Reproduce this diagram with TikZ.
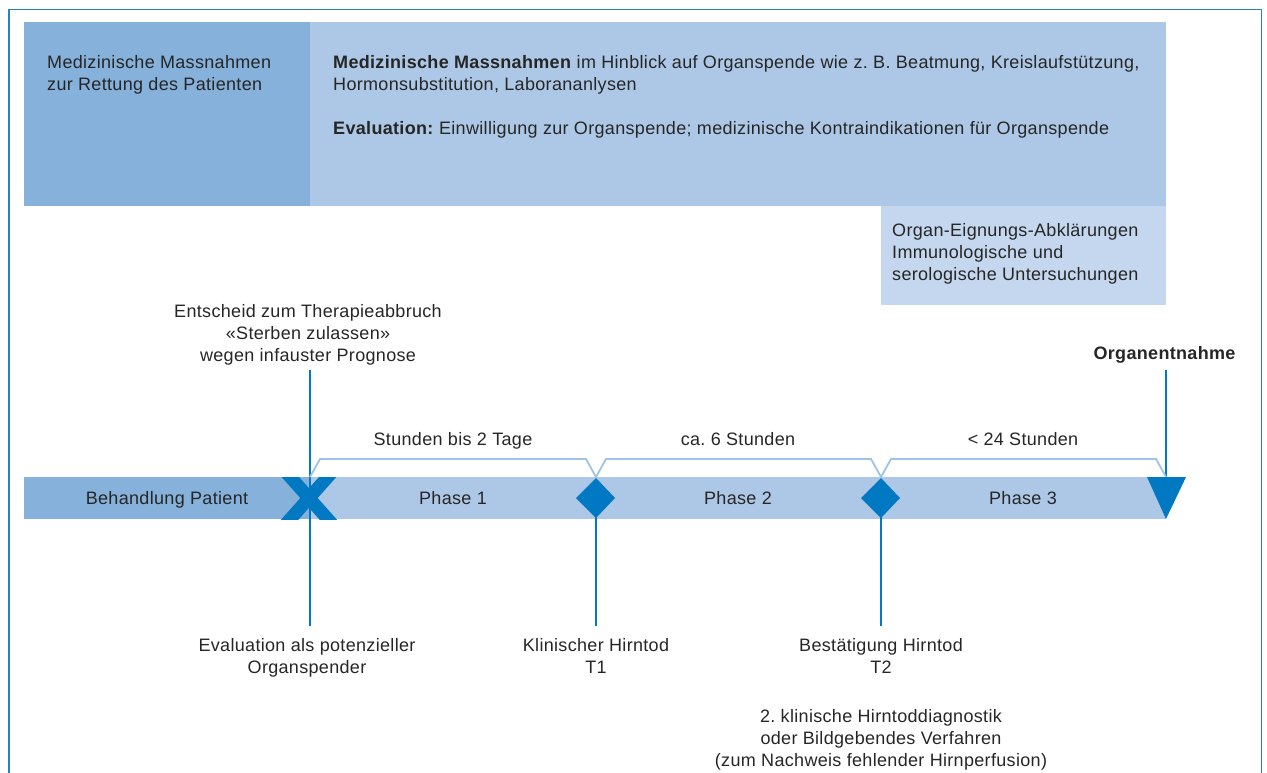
\documentclass[tikz,border=0pt]{standalone}
\usepackage{fontspec}
\setmainfont[LetterSpace=1.8]{Liberation Sans}
\usetikzlibrary{calc}
\definecolor{darkblk}{HTML}{85B1DB}
\definecolor{lightblk}{HTML}{ADC8E6}
\definecolor{lighterblk}{HTML}{C5D7EE}
\definecolor{mblue}{HTML}{0079C2}
\definecolor{brk}{HTML}{9DC3E6}
\definecolor{txt}{HTML}{262626}
\definecolor{framec}{HTML}{2A80C4}
\frenchspacing
\begin{document}
\begin{tikzpicture}[x=1pt,y=-1pt,
  lbl/.style={font=\fontsize{18}{22}\selectfont, text=txt, inner sep=0pt},
  vline/.style={draw=mblue, line width=2.4pt},
  bracketline/.style={draw=brk, line width=1.8pt, line join=miter},
  marker/.style={fill=mblue, draw=none}]
\useasboundingbox (0,0) rectangle (1267,772);
% frame
\draw[framec, line width=1.5pt] (9,780) -- (9,9.5) -- (1261.5,9.5) -- (1261.5,780);
% top blocks
\fill[darkblk] (24,22) rectangle (310,206);
\fill[lightblk] (310,22) rectangle (1166,206);
\fill[lighterblk] (881,206) rectangle (1166,305);
\node[lbl, anchor=north west, align=left] (rescue) at (47,55.5) {Medizinische Massnahmen\\zur Rettung des Patienten};
\node[lbl, anchor=north west, align=left] (measures) at (333,55.5) {\textbf{Medizinische Massnahmen} im Hinblick auf Organspende wie z. B. Beatmung, Kreislaufstützung,\\Hormonsubstitution, Laborananlysen\\[22pt]\textbf{Evaluation:} Einwilligung zur Organspende; medizinische Kontraindikationen für Organspende};
\node[lbl, anchor=north west, align=left] (organ) at (892,223.5) {Organ-Eignungs-Abklärungen\\Immunologische und\\serologische Untersuchungen};
% timeline bar
\fill[darkblk] (24,477) rectangle (310,519);
\fill[lightblk] (310,477) rectangle (1166,519);
% coordinates
\coordinate (xm) at (309,498);
\coordinate (d1) at (596,498);
\coordinate (d2) at (881,498);
\coordinate (tri) at (1166,498);
\coordinate (top1) at (310,370);
\coordinate (bot1) at (310,626);
\coordinate (bot2) at (596,626);
\coordinate (bot3) at (881,626);
\coordinate (top4) at (1166,370);
% vertical lines
\draw[vline] (top1) -- (bot1);
\draw[vline] (d1) -- (bot2);
\draw[vline] (d2) -- (bot3);
\draw[vline] (top4) -- (tri);
% brackets
\draw[bracketline] (310,477) -- (320,459) -- (586,459) -- (596,477) -- (606,459) -- (871,459) -- (881,477) -- (891,459) -- (1156,459) -- (1166,477);
% X marker
\begin{scope}
\clip (270,477) rectangle (350,519);
\draw[mblue, line width=13pt] ($(xm)+(-24,-27)$) -- ($(xm)+(24,27)$);
\draw[mblue, line width=13pt] ($(xm)+(24,-27)$) -- ($(xm)+(-24,27)$);
\end{scope}
% diamonds
\fill[marker] (576,498) -- (596,478) -- (615,498) -- (596,518) -- cycle;
\fill[marker] (861,498) -- (881,478) -- (900,498) -- (881,518) -- cycle;
% triangle
\fill[marker] (1147,477) -- (1186,477) -- (1166,519) -- cycle;
% bar labels
\node[lbl, anchor=base] (beh) at (167,504) {Behandlung Patient};
\node[lbl, anchor=base] (p1) at (453,504) {Phase 1};
\node[lbl, anchor=base] (p2) at (738,504) {Phase 2};
\node[lbl, anchor=base] (p3) at (1023,504) {Phase 3};
% bracket labels
\node[lbl, anchor=base] (b1) at (453,445) {Stunden bis 2 Tage};
\node[lbl, anchor=base] (b2) at (738,445) {ca. 6 Stunden};
\node[lbl, anchor=base] (b3) at (1023,445) {< 24 Stunden};
% top labels
\node[lbl, anchor=north, align=center] (ent) at (308,304.5) {Entscheid zum Therapieabbruch\\«Sterben zulassen»\\wegen infauster Prognose};
\node[lbl, anchor=north east] (entn) at (1236,346.5) {\textbf{Organentnahme}};
% bottom labels
\node[lbl, anchor=north, align=center] (eval) at (307,638.5) {Evaluation als potenzieller\\Organspender};
\node[lbl, anchor=north, align=center] (klin) at (596,638.5) {Klinischer Hirntod\\T1};
\node[lbl, anchor=north, align=center] (best) at (881,638.5) {Bestätigung Hirntod\\T2};
\node[lbl, anchor=north, align=center] (diag) at (881,709.5) {2. klinische Hirntoddiagnostik\\oder Bildgebendes Verfahren\\(zum Nachweis fehlender Hirnperfusion)};
\end{tikzpicture}
\end{document}
